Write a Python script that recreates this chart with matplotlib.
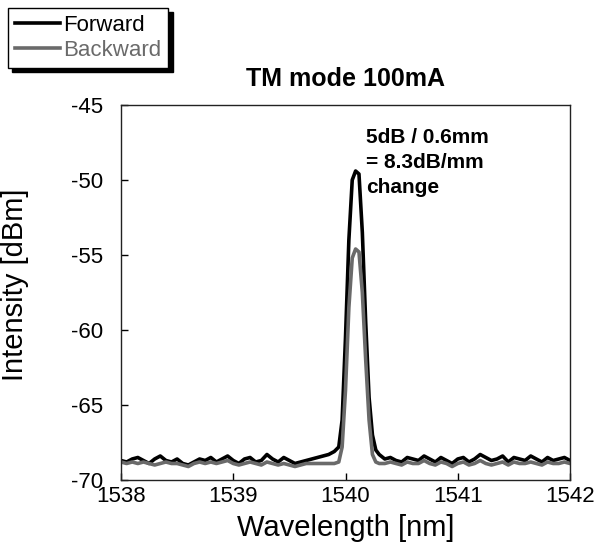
import matplotlib
matplotlib.use('Agg')
import matplotlib.pyplot as plt

plt.rcParams['font.family'] = ['Liberation Sans', 'DejaVu Sans']
plt.rcParams['axes.unicode_minus'] = False

# wavelength samples [nm]
wavelength = [1538.00, 1538.05, 1538.10, 1538.15, 1538.20, 1538.25, 1538.30, 1538.35, 1538.40, 1538.45,
              1538.50, 1538.55, 1538.60, 1538.65, 1538.70, 1538.75, 1538.80, 1538.85, 1538.90, 1538.95,
              1539.00, 1539.05, 1539.10, 1539.15, 1539.20, 1539.25, 1539.30, 1539.35, 1539.40, 1539.45,
              1539.50, 1539.55, 1539.60, 1539.65, 1539.70, 1539.75, 1539.80, 1539.85, 1539.90,
              1539.94, 1539.97, 1540.00, 1540.03, 1540.06, 1540.09, 1540.12, 1540.15, 1540.18, 1540.21,
              1540.24, 1540.27, 1540.30,
              1540.35, 1540.40, 1540.45, 1540.50, 1540.55, 1540.60, 1540.65, 1540.70, 1540.75, 1540.80,
              1540.85, 1540.90, 1540.95, 1541.00, 1541.05, 1541.10, 1541.15, 1541.20, 1541.25, 1541.30,
              1541.35, 1541.40, 1541.45, 1541.50, 1541.55, 1541.60, 1541.65, 1541.70, 1541.75, 1541.80,
              1541.85, 1541.90, 1541.95, 1542.00]

# intensity [dBm]
forward = [-68.7, -68.8, -68.6, -68.5, -68.7, -68.9, -68.6, -68.4, -68.7, -68.8,
           -68.6, -68.9, -69.0, -68.8, -68.6, -68.7, -68.5, -68.8, -68.6, -68.4,
           -68.7, -68.9, -68.6, -68.5, -68.8, -68.7, -68.3, -68.6, -68.8, -68.5,
           -68.7, -68.9, -68.8, -68.7, -68.6, -68.5, -68.4, -68.3, -68.1,
           -67.8, -66.0, -60.5, -54.0, -50.0, -49.4, -49.6, -53.5, -59.5, -64.5,
           -67.0, -68.0, -68.3,
           -68.6, -68.5, -68.7, -68.8, -68.5, -68.6, -68.7, -68.4, -68.6, -68.8,
           -68.5, -68.7, -68.9, -68.6, -68.5, -68.8, -68.6, -68.3, -68.5, -68.7,
           -68.6, -68.4, -68.8, -68.5, -68.6, -68.7, -68.4, -68.6, -68.8, -68.5,
           -68.7, -68.6, -68.5, -68.7]

backward = [-68.8, -68.9, -68.8, -68.9, -68.8, -68.9, -69.0, -68.9, -68.8, -68.9,
            -68.9, -69.0, -69.1, -68.9, -68.8, -68.9, -68.8, -68.9, -68.8, -68.7,
            -68.9, -69.0, -68.9, -68.8, -68.9, -69.0, -68.8, -68.9, -69.0, -68.9,
            -69.0, -69.1, -69.0, -68.9, -68.9, -68.9, -68.9, -68.9, -68.9,
            -68.8, -67.8, -64.0, -58.5, -55.2, -54.6, -54.8, -57.5, -62.0, -66.0,
            -68.3, -68.8, -68.9,
            -68.9, -68.8, -68.9, -69.0, -68.8, -68.9, -68.9, -68.7, -68.9, -69.0,
            -68.8, -68.9, -69.1, -68.9, -68.8, -69.0, -68.9, -68.7, -68.9, -69.0,
            -68.9, -68.8, -69.0, -68.8, -68.9, -68.9, -68.8, -68.9, -69.0, -68.8,
            -68.9, -68.9, -68.8, -68.9]

x_ticks = [1538, 1539, 1540, 1541, 1542]
y_ticks = [-70, -65, -60, -55, -50, -45]

fig = plt.figure(figsize=(5.98, 5.47), dpi=100)
ax = fig.add_axes([121 / 598, 67 / 547, 449 / 598, 375 / 547])

l1, = ax.plot(wavelength, forward, color='black', lw=2.6, label='Forward')
l2, = ax.plot(wavelength, backward, color='#6a6a6a', lw=2.6, label='Backward')

ax.set_xlim(1538, 1542)
ax.set_ylim(-70, -45)
ax.set_xticks(x_ticks)
ax.set_yticks(y_ticks)
ax.tick_params(direction='in', length=5, width=1, labelsize=16)
ax.tick_params(axis='y', pad=13)
ax.tick_params(axis='x', pad=4)
for s in ax.spines.values():
    s.set_linewidth(1.0)
    s.set_color('#222222')

ax.set_xlabel('Wavelength [nm]', fontsize=21)
ax.set_ylabel('Intensity [dBm]', fontsize=21)
ax.yaxis.set_label_coords(-0.205, 0.52)
ax.xaxis.set_label_coords(0.5, -0.09)
ax.set_title('TM mode 100mA', fontsize=18, fontweight='bold', pad=14)

ax.text(1540.18, -46.55, '5dB / 0.6mm\n= 8.3dB/mm\nchange', fontsize=15,
        fontweight='bold', va='top', ha='left', linespacing=1.4)

leg = fig.legend(handles=[l1, l2], loc='upper left', bbox_to_anchor=(8 / 598, 1 - 8 / 547),
                 fontsize=16, frameon=True, fancybox=False, edgecolor='black',
                 shadow={'ox': 3, 'oy': -3, 'shade': 1, 'alpha': 1},
                 handlelength=2.05, handletextpad=0.15, borderpad=0.3, labelspacing=0.2,
                 borderaxespad=0, labelcolor='linecolor')
leg.get_frame().set_linewidth(1.0)

fig.savefig('out.png', dpi=100)
